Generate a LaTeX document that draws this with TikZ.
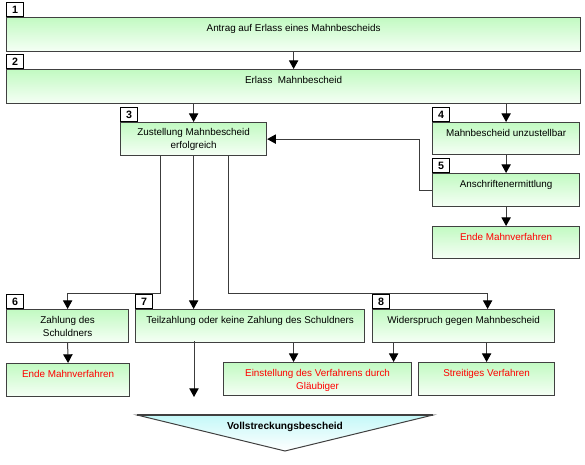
\documentclass[tikz,border=0pt]{standalone}
\usepackage{fontspec}
\setmainfont{Liberation Sans}
\usetikzlibrary{arrows.meta}
\usetikzlibrary{positioning}
\usepackage{xcolor}

\definecolor{boxtop}{RGB}{194,250,194}
\definecolor{boxbot}{RGB}{246,255,246}
\definecolor{boxline}{RGB}{64,64,64}
\definecolor{conline}{RGB}{60,60,60}
\definecolor{tritop}{RGB}{196,248,248}
\definecolor{endred}{RGB}{255,0,0}

\tikzset{
  box/.style={draw=boxline, line width=0.9pt, top color=boxtop, bottom color=boxbot, inner sep=0pt, anchor=north west},
  numbox/.style={draw=black, line width=0.75pt, fill=white, anchor=south west, minimum width=12.75pt, minimum height=10.5pt, inner sep=0pt, font=\fontsize{8}{9}\selectfont\bfseries},
  txt/.style={inner sep=0pt, align=center, font=\fontsize{7.4}{9.75}\selectfont},
  endtxt/.style={txt, text=endred},
  conn/.style={draw=conline, line width=0.75pt, -{Triangle[width=7pt,length=6.5pt,color=black]}},
}

\begin{document}
\begin{tikzpicture}[x=0.75pt,y=0.75pt,yscale=-1,xscale=1]
\useasboundingbox (0,0) rectangle (585,464);

% Boxes
\node[box, minimum width=430.5pt, minimum height=25.5pt] (b1) at (6,17) {};
\node[box, minimum width=430.5pt, minimum height=25.5pt] (b2) at (6,69) {};
\node[box, minimum width=109.5pt, minimum height=24.75pt] (b3) at (120,122) {};
\node[box, minimum width=110.25pt, minimum height=24pt] (b4) at (432,122) {};
\node[box, minimum width=110.25pt, minimum height=24.75pt] (b5) at (432,173) {};
\node[box, minimum width=110.25pt, minimum height=24pt] (e5) at (432,226) {};
\node[box, minimum width=91.5pt, minimum height=24.75pt] (b6) at (6,309) {};
\node[box, minimum width=171.75pt, minimum height=24.75pt] (b7) at (135,309) {};
\node[box, minimum width=136.5pt, minimum height=24.75pt] (b8) at (372,309) {};
\node[box, minimum width=92.25pt, minimum height=24.75pt] (e6) at (6,363) {};
\node[box, minimum width=141pt, minimum height=24.75pt] (e7) at (223,362) {};
\node[box, minimum width=102pt, minimum height=24.75pt] (e8) at (418,362) {};

% Number tags
\node[numbox] (n1) at (b1.north west) {1};
\node[numbox] (n2) at (b2.north west) {2};
\node[numbox] (n3) at (b3.north west) {3};
\node[numbox] (n4) at (b4.north west) {4};
\node[numbox] (n5) at (b5.north west) {5};
\node[numbox] (n6) at (b6.north west) {6};
\node[numbox] (n7) at (b7.north west) {7};
\node[numbox] (n8) at (b8.north west) {8};

% Text Nodes
\node[txt, below=5.25pt of b1.north] (t1) {Antrag auf Erlass eines Mahnbescheids};
\node[txt, below=5.25pt of b2.north] (t2) {Erlass\ \ Mahnbescheid};
\node[txt, below=4.5pt of b3.north] (t3) {Zustellung Mahnbescheid\\erfolgreich};
\node[txt, below=5.25pt of b4.north] (t4) {Mahnbescheid unzustellbar};
\node[txt, below=5.25pt of b5.north] (t5) {Anschriftenermittlung};
\node[endtxt, below=5.25pt of e5.north] (te5) {Ende Mahnverfahren};
\node[txt, below=5.25pt of b6.north] (t6) {Zahlung des\\Schuldners};
\node[txt, below=5.25pt of b7.north] (t7) {Teilzahlung oder keine Zahlung des Schuldners};
\node[txt, below=5.25pt of b8.north] (t8) {Widerspruch gegen Mahnbescheid};
\node[endtxt, below=5.25pt of e6.north] (te6) {Ende Mahnverfahren};
\node[endtxt, below=5.25pt of e7.north] (te7) {Einstellung des Verfahrens durch\\Gläubiger};
\node[endtxt, below=5.25pt of e8.north] (te8) {Streitiges Verfahren};

% Vollstreckungsbescheid
\shade[top color=tritop, bottom color=white, draw=boxline, line width=0.75pt] (137,415) -- (433,415) -- (285,451) -- cycle;
\draw[boxline, line width=1.2pt] (137,415) -- (433,415);
\node[txt, font=\fontsize{7.6}{9}\selectfont\bfseries] (vb) at (285,427) {Vollstreckungsbescheid};
\coordinate (vtip) at (194,397);

% Connectors
\draw[conn] (b1.south) -- (b2.north);
\draw[conn] (b2.south -| b3.north) -- (b3.north);
\draw[conn] (b2.south -| b4.north) -- (b4.north);
\draw[conn] (b4.south) -- (b5.north);
\draw[conn] (b5.south) -- (e5.north);
\draw[conn] (b5.west) -- ++(-13,0) |- (b3.east);
\draw[conn] ([xshift=-24.75pt]b3.south) -- ++(0,137) -| (b6.north);
\draw[conn] (b3.south) -- (b3.south |- b7.north);
\draw[conn] ([xshift=26.25pt]b3.south) -- ++(0,137) -| ([xshift=18pt]b8.north);
\draw[conn] (b6.south) -- (e6.north);
\draw[conn] ([xshift=32.6pt]b7.south) -- ([xshift=32.6pt]b7.south |- e7.north);
\draw[conn] ([xshift=-52.5pt]b8.south) -- ([xshift=-52.5pt]b8.south |- e7.north);
\draw[conn] (b8.south -| e8.north) -- (e8.north);
\draw[conn] ([yshift=-1.5pt]b7.south -| vtip) -- (vtip);

\end{tikzpicture}
\end{document}
